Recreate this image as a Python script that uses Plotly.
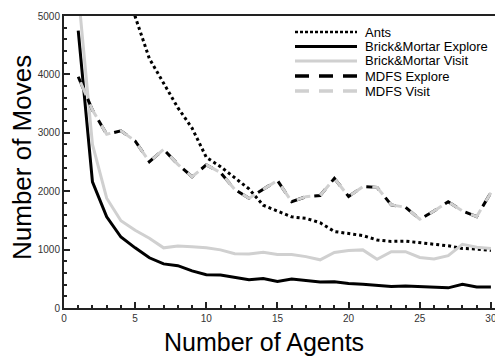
import plotly.graph_objects as go

agents = list(range(1, 31))

ants = [None, None, None, 5900, 4990, 4270, 3850, 3430, 3080, 2580,
        2420, 2230, 2040, 1760, 1660, 1560, 1535, 1460, 1310, 1270,
        1240, 1165, 1140, 1145, 1120, 1095, 1065, 1020, 1010, 985]

bm_explore = [4750, 2160, 1560, 1215, 1030, 860, 755, 725, 635, 570,
              565, 520, 485, 505, 455, 495, 465, 445, 450, 420,
              405, 390, 370, 377, 365, 360, 345, 405, 360, 360]

bm_visit = [5400, 2800, 1880, 1495, 1330, 1195, 1030, 1060, 1050, 1030,
            995, 930, 925, 955, 915, 915, 880, 825, 950, 985,
            995, 835, 965, 965, 865, 840, 895, 1090, 1040, 1020]

mdfs_explore = [3960, 3390, 2975, 3035, 2860, 2505, 2715, 2460, 2248, 2450,
                2320, 2030, 1880, 2040, 2185, 1820, 1906, 1925, 2220, 1910,
                2077, 2066, 1765, 1725, 1520, 1660, 1820, 1660, 1565, 1975]

mdfs_visit = [3960, 3390, 2975, 3035, 2860, 2505, 2715, 2460, 2248, 2450,
              2320, 2030, 1880, 2040, 2185, 1820, 1906, 1925, 2220, 1910,
              2077, 2066, 1765, 1725, 1520, 1660, 1820, 1660, 1565, 1975]

series_names = ["Ants", "Brick&Mortar Explore", "Brick&Mortar Visit",
                "MDFS Explore", "MDFS Visit"]

x_ticks = [0, 5, 10, 15, 20, 25, 30]
y_ticks = [0, 1000, 2000, 3000, 4000, 5000]

FONT = "Liberation Sans, Arial, Helvetica, sans-serif"
GRAY = "#d0d0d0"

# page body has an 8px margin; figure is placed at (8, 8)
OFF = 8
FIG_W, FIG_H = 503 - OFF, 358 - OFF
L, T = 64 - OFF, 16 - OFF      # plot area offsets in figure px
W, H = 439.0, 292.0            # plot area size in px

def px_x(p):
    return (p - OFF - L) / W
def px_y(p):
    return (T + H - (p - OFF)) / H

styles = [
    dict(color="black", width=3, dash="dot"),
    dict(color="black", width=3),
    dict(color=GRAY, width=3),
    dict(color="black", width=3, dash="14px,10px"),
    dict(color=GRAY, width=3, dash="0px,6px,14px,4px"),
]
values = [ants, bm_explore, bm_visit, mdfs_explore, mdfs_visit]

fig = go.Figure()
for name, vals, st in zip(series_names, values, styles):
    fig.add_trace(go.Scatter(x=agents, y=vals, mode="lines", name=name,
                             line=st, showlegend=False))

# Custom legend (line samples + labels), positions given in screen px
legend_rows = [32, 46.5, 61, 76, 91]
legend_styles = [
    dict(color="black", width=2.5, dash="3px,2px"),
    dict(color="black", width=3),
    dict(color=GRAY, width=3),
    dict(color="black", width=3.5, dash="14px,10px"),
    dict(color=GRAY, width=3.5, dash="14px,10px"),
]
for name, ry, st in zip(series_names, legend_rows, legend_styles):
    fig.add_shape(type="line", xref="paper", yref="paper",
                  x0=px_x(295), x1=px_x(357), y0=px_y(ry), y1=px_y(ry), line=st)
    fig.add_annotation(text=name, xref="paper", yref="paper", x=px_x(363), y=px_y(ry),
                       xanchor="left", yanchor="middle", showarrow=False,
                       font=dict(size=13, color="black", family=FONT))

# Axis titles
fig.add_annotation(text="Number of Agents", xref="paper", yref="paper",
                   x=px_x(264), y=px_y(342), xanchor="center", yanchor="middle",
                   showarrow=False, font=dict(size=25, color="black", family=FONT))
fig.add_annotation(text="Number of Moves", xref="paper", yref="paper",
                   x=px_x(22), y=px_y(158), xanchor="center", yanchor="middle",
                   textangle=-90, showarrow=False,
                   font=dict(size=26, color="black", family=FONT))

fig.update_layout(
    width=FIG_W, height=FIG_H,
    margin=dict(l=L, r=FIG_W - L - W, t=T, b=FIG_H - T - H, autoexpand=False),
    paper_bgcolor="white", plot_bgcolor="white",
    font=dict(family=FONT, color="black"),
    showlegend=False,
    xaxis=dict(range=[0, 30.85], tickvals=x_ticks, ticks="inside", ticklen=6, tickwidth=1.5,
               tickcolor="#222", showgrid=False, zeroline=False, automargin=False,
               showline=True, linecolor="#222", linewidth=2, mirror=True,
               tickfont=dict(size=10, color="#333"),
               minor=dict(dtick=1, ticks="inside", ticklen=3, tickcolor="#222", showgrid=False)),
    yaxis=dict(range=[0, 5000], tickvals=y_ticks, ticks="inside", ticklen=6, tickwidth=1.5,
               tickcolor="#222", showgrid=False, zeroline=False, automargin=False,
               showline=True, linecolor="#222", linewidth=2,
               tickfont=dict(size=10, color="#333"),
               minor=dict(dtick=200, ticks="inside", ticklen=3, tickcolor="#222", showgrid=False)),
)

fig.write_html("out.html")
